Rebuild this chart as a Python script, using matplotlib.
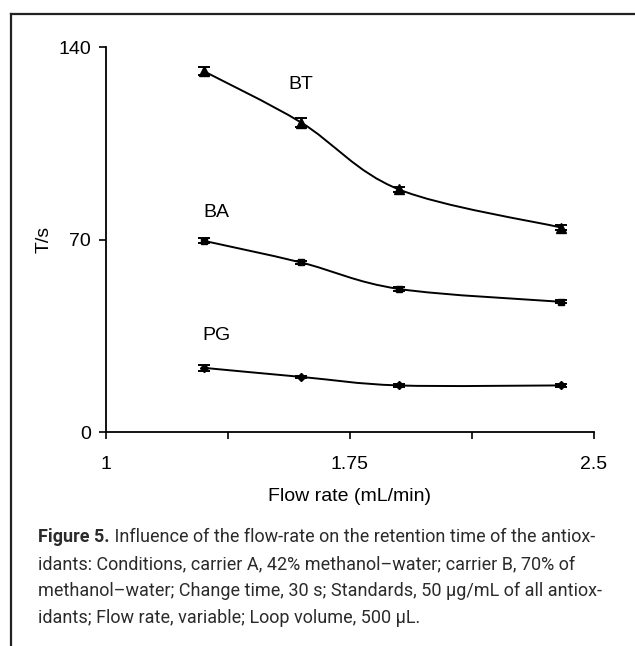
import matplotlib
matplotlib.use('Agg')
import matplotlib.pyplot as plt
import numpy as np
from matplotlib.path import Path
from matplotlib.patches import PathPatch
from matplotlib.lines import Line2D

# retention time vs flow rate for the three antioxidants
flow = [1.3, 1.6, 1.9, 2.4]
bt = [131.3, 112.6, 88.3, 74.4]
bt_err = [1.4, 1.6, 0.9, 0.9]
ba = [69.6, 61.7, 52.1, 47.4]
ba_err = [0.9, 0.5, 0.7, 0.5]
pg = [23.4, 20.1, 17.0, 17.0]
pg_err = [1.1, 0.3, 0.5, 0.5]

caption_head = 'Figure 5.'
caption_lines = [
    ' Influence of the flow-rate on the retention time of the antiox-',
    'idants: Conditions, carrier A, 42% methanol\u2013water; carrier B, 70% of',
    'methanol\u2013water; Change time, 30 s; Standards, 50 \u00b5g/mL of all antiox-',
    'idants; Flow rate, variable; Loop volume, 500 \u00b5L.',
]

plt.rcParams['font.family'] = ['Liberation Sans', 'DejaVu Sans']


def smooth_path(x, y):
    # Catmull-Rom style bezier through the points (like a spreadsheet "smoothed line")
    x = np.asarray(x, float)
    y = np.asarray(y, float)
    n = len(x)
    verts = [(x[0], y[0])]
    codes = [Path.MOVETO]
    for i in range(n - 1):
        p0 = (x[max(i - 1, 0)], y[max(i - 1, 0)])
        p1 = (x[i], y[i])
        p2 = (x[i + 1], y[i + 1])
        p3 = (x[min(i + 2, n - 1)], y[min(i + 2, n - 1)])
        c1 = (p1[0] + (p2[0] - p0[0]) / 6, p1[1] + (p2[1] - p0[1]) / 6)
        c2 = (p2[0] - (p3[0] - p1[0]) / 6, p2[1] - (p3[1] - p1[1]) / 6)
        verts += [c1, c2, p2]
        codes += [Path.CURVE4] * 3
    return Path(verts, codes)


fig = plt.figure(figsize=(6.35, 6.46), dpi=100)
ax = fig.add_axes([0.167, 0.331, 0.768, 0.596])

series = [(bt, bt_err, '^', 7), (ba, ba_err, 's', 4), (pg, pg_err, 'D', 4.5)]
for vals, err, mk, ms in series:
    ax.add_patch(PathPatch(smooth_path(flow, vals), fill=False,
                           edgecolor='black', lw=1.4))
    ax.errorbar(flow, vals, yerr=err, fmt=mk, color='black', ms=ms,
                capsize=4, elinewidth=1.2, capthick=1.4)

ax.text(1.60, 126.5, 'BT', fontsize=14, ha='center', va='center')
ax.text(1.34, 80, 'BA', fontsize=14, ha='center', va='center')
ax.text(1.34, 35, 'PG', fontsize=14, ha='center', va='center')

ax.set_xlim(1, 2.5)
ax.set_ylim(0, 140)
ax.set_xticks([1, 1.375, 1.75, 2.125, 2.5])
ax.set_xticklabels(['1', '', '1.75', '', '2.5'])
ax.set_yticks([0, 70, 140])
ax.tick_params(direction='out', length=5, width=1.2, labelsize=14, colors='black')
ax.tick_params(axis='x', pad=12)
ax.tick_params(axis='y', pad=6)
for s in ['top', 'right']:
    ax.spines[s].set_visible(False)
for s in ['left', 'bottom']:
    ax.spines[s].set_linewidth(1.3)
ax.set_xlabel('Flow rate (mL/min)', fontsize=14, labelpad=11)
ax.set_ylabel('T/s', fontsize=14, labelpad=4)

# frame around the figure block
fig.add_artist(Line2D([11 / 635, 1], [1 - 14 / 646] * 2, color='#222222', lw=1.6))
fig.add_artist(Line2D([11 / 635] * 2, [0, 1 - 14 / 646], color='#222222', lw=1.6))

cap_font = ['DejaVu Sans Condensed', 'Roboto', 'DejaVu Sans']
cap_color = '#2b2b2b'
cap_size = 13
x_left, x_right = 38, 612
y0 = 1 - 542 / 646
head = fig.text(x_left / 635, y0, caption_head, fontsize=cap_size, fontweight='bold',
                family=cap_font, color=cap_color, va='baseline')
first = plt.Annotation(caption_lines[0], xy=(1, 0), xycoords=head, va='bottom',
                       fontsize=cap_size, family=cap_font, color=cap_color)
fig.add_artist(first)
rest = []
for i, line in enumerate(caption_lines[1:], start=1):
    rest.append(fig.text(x_left / 635, y0 - i * 27 / 646, line, fontsize=cap_size,
                         family=cap_font, color=cap_color, va='baseline'))

# shrink the caption so the widest line stays inside the block
renderer = fig.canvas.get_renderer()
right = max(t.get_window_extent(renderer).x1 for t in [first] + rest)
scale = (x_right - x_left) / (right - x_left)
if scale < 1:
    for t in [head, first] + rest:
        t.set_fontsize(cap_size * scale)

fig.savefig('out.png', dpi=100)
